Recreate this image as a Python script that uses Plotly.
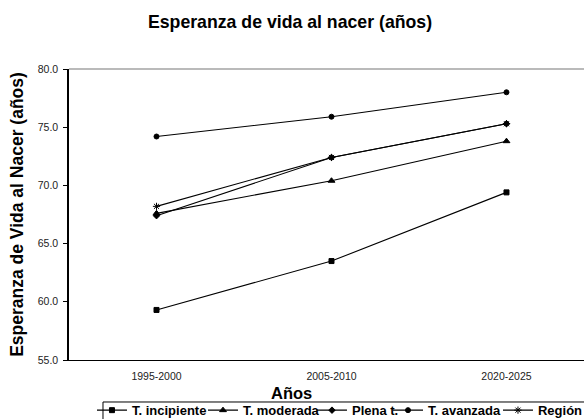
import plotly.graph_objects as go

periods = ["1995-2000", "2005-2010", "2020-2025"]
incipiente = [59.3, 63.5, 69.4]
moderada = [67.6, 70.4, 73.8]
plena = [67.4, 72.4, 75.3]
avanzada = [74.2, 75.9, 78.0]
region = [68.2, 72.4, 75.3]

names = ["T. incipiente", "T. moderada", "Plena t.", "T. avanzada", "Región"]
values = [incipiente, moderada, plena, avanzada, region]
symbols = ["square", "triangle-up", "diamond", "circle", "asterisk-open"]
sizes = [5, 6, 5, 5, 6]
legend_x = [0.1575, 0.3476, 0.5342, 0.6644, 0.8527]  # container fractions

FONT = "Liberation Sans, Arial, sans-serif"
fig = go.Figure()
legends = {}
for i, (name, vals, sym, sz) in enumerate(zip(names, values, symbols, sizes)):
    lid = "legend" if i == 0 else f"legend{i+1}"
    fig.add_trace(go.Scatter(
        x=[0, 1, 2], y=vals, name=name, mode="lines+markers", legend=lid,
        line=dict(color="black", width=1.1),
        marker=dict(symbol=sym, size=sz, color="black",
                    line=dict(color="black", width=1)),
    ))
    legends[lid] = dict(
        orientation="h", xref="container", yref="container",
        x=legend_x[i], xanchor="left", y=0.021, yanchor="middle",
        borderwidth=0, bgcolor="rgba(0,0,0,0)",
        font=dict(size=13, family=FONT, weight="bold", color="black"),
        itemwidth=30,
    )

# top border of the plot area
fig.add_shape(type="line", xref="paper", yref="paper", x0=0, x1=1, y0=1, y1=1,
              line=dict(color="#777", width=1.2))
# legend frame
fig.add_shape(type="rect", xref="paper", yref="paper", x0=0.066, x1=1.2,
              y0=-0.1443, y1=-0.3, line=dict(color="black", width=1),
              fillcolor="rgba(0,0,0,0)")

# x-axis title
fig.add_annotation(text="<b>Años</b>", xref="paper", yref="paper",
                   x=0.433, y=-0.1134, xanchor="center", yanchor="middle",
                   showarrow=False, font=dict(size=16.5, family=FONT, color="black"))

fig.update_layout(
    width=584, height=419,
    margin=dict(l=69, r=0, t=69, b=59, autoexpand=False),
    paper_bgcolor="white", plot_bgcolor="white",
    font=dict(family=FONT, color="black"),
    title=dict(text="<b>Esperanza de vida al nacer (años)</b>",
               x=0.4966, xref="container", xanchor="center",
               y=0.9475, yref="container", yanchor="middle",
               font=dict(size=17.7, family=FONT)),
    showlegend=True,
    **legends,
)
fig.update_xaxes(
    range=[-0.5, 2.443], tickmode="array", tickvals=[0, 1, 2], ticktext=periods,
    showgrid=False, zeroline=False, showline=True, linecolor="black", linewidth=1.2,
    ticks="", ticklabelstandoff=6, tickfont=dict(size=10.5, color="#222"),
)
fig.update_yaxes(
    range=[55, 80], dtick=5, tickformat=".1f", showgrid=False, zeroline=False,
    showline=True, linecolor="black", linewidth=1.5, ticks="outside", ticklen=4,
    tickcolor="black", ticklabelstandoff=3, tickfont=dict(size=10.5, color="#222"),
    title=dict(text="<b>Esperanza de Vida al Nacer (años)</b>", font=dict(size=17.5), standoff=10),
)
fig.write_html(
    "out.html",
    config={"displayModeBar": False},
    post_script="document.body.style.margin='0';document.body.style.overflow='hidden';",
)
